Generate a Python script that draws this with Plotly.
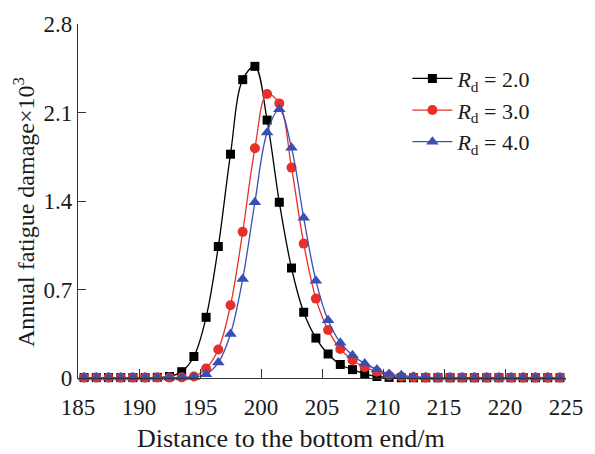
import plotly.graph_objects as go

# Data (x positions at segment mid-points)
distance = [185.5, 186.5, 187.5, 188.5, 189.5, 190.5, 191.5, 192.5, 193.5, 194.5,
            195.5, 196.5, 197.5, 198.5, 199.5, 200.5, 201.5, 202.5, 203.5, 204.5,
            205.5, 206.5, 207.5, 208.5, 209.5, 210.5, 211.5, 212.5, 213.5, 214.5,
            215.5, 216.5, 217.5, 218.5, 219.5, 220.5, 221.5, 222.5, 223.5, 224.5]

damage_rd2 = [0.003, 0.003, 0.003, 0.003, 0.003, 0.003, 0.005, 0.012, 0.05, 0.17,
              0.48, 1.04, 1.77, 2.36, 2.465, 2.04, 1.39, 0.87, 0.52, 0.316,
              0.19, 0.107, 0.066, 0.032, 0.012, 0.005, 0.002, 0.002, 0.002, 0.002,
              0.002, 0.002, 0.002, 0.002, 0.002, 0.002, 0.002, 0.002, 0.002, 0.002]

damage_rd3 = [0.003, 0.003, 0.003, 0.003, 0.003, 0.003, 0.003, 0.003, 0.005, 0.012,
              0.075, 0.225, 0.575, 1.156, 1.817, 2.247, 2.172, 1.664, 1.063, 0.628,
              0.379, 0.23, 0.14, 0.086, 0.05, 0.02, 0.01, 0.005, 0.003, 0.003,
              0.003, 0.003, 0.003, 0.003, 0.003, 0.003, 0.003, 0.003, 0.003, 0.003]

damage_rd4 = [0.003, 0.003, 0.003, 0.003, 0.003, 0.003, 0.003, 0.003, 0.003, 0.008,
              0.03, 0.122, 0.348, 0.783, 1.39, 1.942, 2.125, 1.822, 1.267, 0.77,
              0.456, 0.279, 0.179, 0.114, 0.068, 0.031, 0.021, 0.01, 0.005, 0.003,
              0.003, 0.003, 0.003, 0.003, 0.003, 0.003, 0.003, 0.003, 0.003, 0.003]

series_names = ["<i>R</i><sub>d</sub> = 2.0",
                "<i>R</i><sub>d</sub> = 3.0",
                "<i>R</i><sub>d</sub> = 4.0"]

x_ticks = [185, 190, 195, 200, 205, 210, 215, 220, 225]
y_ticks = [0, 0.7, 1.4, 2.1, 2.8]
y_tick_labels = ["0", "0.7", "1.4", "2.1", "2.8"]

FONT = "Liberation Serif"
AXIS_COLOR = "#333333"

fig = go.Figure()
styles = [
    dict(color="#000000", symbol="square", size=9),
    dict(color="#e8302a", symbol="circle", size=10),
    dict(color="#3a4fb4", symbol="triangle-up", size=11),
]
for name, ys, st in zip(series_names, [damage_rd2, damage_rd3, damage_rd4], styles):
    fig.add_trace(go.Scatter(
        x=distance, y=ys, name=name, mode="lines+markers",
        line=dict(color=st["color"], width=1.3, shape="spline"),
        marker=dict(color=st["color"], symbol=st["symbol"], size=st["size"],
                    line=dict(width=0)),
        cliponaxis=False,
    ))

fig.update_layout(
    width=595, height=454,
    margin=dict(l=78, r=27, t=18, b=76),
    paper_bgcolor="white", plot_bgcolor="white",
    font=dict(family=FONT, size=22, color="#1a1a1a"),
    showlegend=True,
    legend=dict(x=0.675, y=0.905, xanchor="left", yanchor="top", itemwidth=40,
                bgcolor="rgba(0,0,0,0)", font=dict(family=FONT, size=22)),
)
fig.update_xaxes(
    range=[185, 225], tickvals=x_ticks, ticktext=[str(t) for t in x_ticks],
    ticks="inside", ticklen=9, tickwidth=1.2, tickcolor=AXIS_COLOR,
    showline=True, linecolor=AXIS_COLOR, linewidth=1.3, mirror=False,
    showgrid=False, zeroline=False, ticklabelstandoff=8,
    tickfont=dict(family=FONT, size=23),
)
fig.update_yaxes(
    range=[0, 2.8], tickvals=y_ticks, ticktext=y_tick_labels,
    ticks="inside", ticklen=8, tickwidth=1.2, tickcolor=AXIS_COLOR,
    showline=True, linecolor=AXIS_COLOR, linewidth=1.3, mirror=False,
    showgrid=False, zeroline=False,
    tickfont=dict(family=FONT, size=23),
)

fig.add_annotation(text="Distance to the bottom end/m", xref="paper", yref="paper",
                   x=0.4367, y=-0.172, xanchor="center", yanchor="middle",
                   showarrow=False, font=dict(family=FONT, size=26))
fig.add_annotation(text="Annual fatigue damage×10<sup>3</sup>", xref="paper", yref="paper",
                   x=-0.112, y=0.47, xanchor="center", yanchor="middle", textangle=-90,
                   showarrow=False, font=dict(family=FONT, size=24))

fig.write_html("out.html")
